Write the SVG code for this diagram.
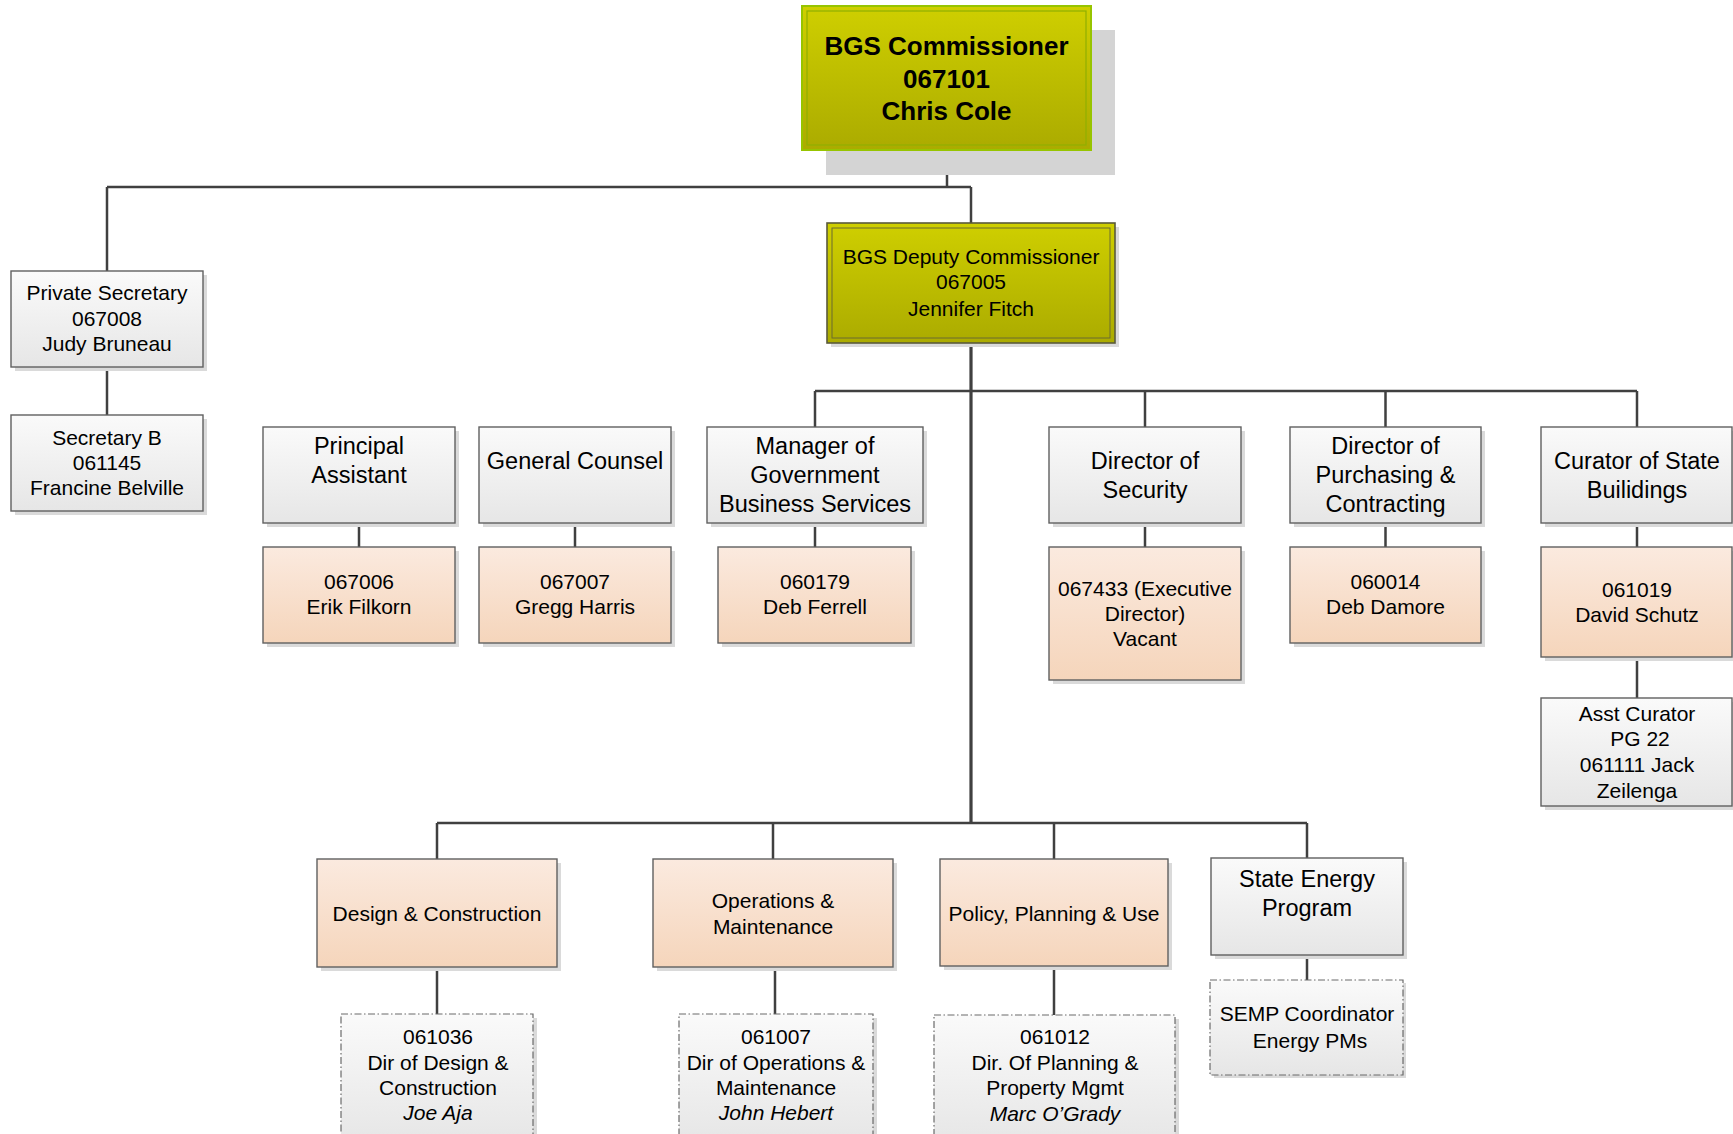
<svg xmlns="http://www.w3.org/2000/svg" width="1733" height="1134" viewBox="0 0 1733 1134">
<defs>
<linearGradient id="gGray" x1="0" y1="0" x2="0" y2="1"><stop offset="0" stop-color="#fafafa"/><stop offset="1" stop-color="#e6e6e6"/></linearGradient>
<linearGradient id="gPeach" x1="0" y1="0" x2="0" y2="1"><stop offset="0" stop-color="#fbeadf"/><stop offset="1" stop-color="#f5d5bb"/></linearGradient>
<linearGradient id="gYel" x1="0" y1="0" x2="0" y2="1"><stop offset="0" stop-color="#cfcf00"/><stop offset="1" stop-color="#abab00"/></linearGradient>
<style>
.sh{fill:#dadada}
.gray{fill:url(#gGray);stroke:#606060;stroke-width:1.4}
.peach{fill:url(#gPeach);stroke:#606060;stroke-width:1.4}
.dash{fill:url(#gGray);stroke:#6a6a6a;stroke-width:1.2;stroke-dasharray:7 2.5 1.5 2.5}
.t{font-family:"Liberation Sans",Arial,sans-serif;font-size:21px;fill:#000;text-anchor:middle}
.t2{font-family:"Liberation Sans",Arial,sans-serif;font-size:23.5px;fill:#000;text-anchor:middle}
.it{font-style:italic}
.ln{fill:none;stroke:#404040;stroke-width:2.5}
</style>
</defs>
<rect width="1733" height="1134" fill="#ffffff"/>

<g id="connectors">
<path class="ln" d="M947,150 V187 M107,187 H971 M107,187 V271 M971,187 V223"/>
<path class="ln" d="M107,367 V415"/>
<path class="ln" style="stroke-width:3.2" d="M971,343 V823"/>
<path class="ln" d="M815,391 H1637 M815,391 V427 M1145,391 V427 M1385.5,391 V427 M1637,391 V427"/>
<path class="ln" d="M359,523 V547 M575,523 V547 M815,523 V547 M1145,523 V547 M1385.5,523 V547 M1637,523 V547 M1637,657 V698"/>
<path class="ln" d="M437,823 H1307 M437,823 V859 M773,823 V859 M1054,823 V859 M1307,823 V858"/>
<path class="ln" d="M437,967 V1014 M775,967 V1014 M1054,966 V1015 M1307,955 V980"/>
</g>

<g id="n-commissioner">
<rect x="826" y="30" width="289" height="145" fill="#d4d4d4"/>
<rect x="802" y="6" width="289" height="144" fill="url(#gYel)" stroke="#97c400" stroke-width="2"/>
<rect x="807" y="11" width="279" height="134" fill="none" stroke="#8fb000" stroke-width="1.2"/>
<text class="t" style="font-size:26px;font-weight:bold" x="946.5" y="55">BGS Commissioner</text>
<text class="t" style="font-size:26px;font-weight:bold" x="946.5" y="88">067101</text>
<text class="t" style="font-size:26px;font-weight:bold" x="946.5" y="120">Chris Cole</text>
</g>

<g id="n-deputy">
<rect class="sh" x="831" y="227" width="288" height="120"/>
<rect x="827" y="223" width="288" height="120" fill="url(#gYel)" stroke="#5a5a3a" stroke-width="1.6"/>
<rect x="832" y="228" width="278" height="110" fill="none" stroke="#6b6b30" stroke-width="1"/>
<text class="t" x="971" y="264">BGS Deputy Commissioner</text>
<text class="t" x="971" y="289">067005</text>
<text class="t" x="971" y="316">Jennifer Fitch</text>
</g>

<g id="n-privsec">
<rect class="sh" x="15" y="275" width="192" height="96"/>
<rect class="gray" x="11" y="271" width="192" height="96"/>
<text class="t" x="107" y="300">Private Secretary</text>
<text class="t" x="107" y="326">067008</text>
<text class="t" x="107" y="351">Judy Bruneau</text>
</g>

<g id="n-secb">
<rect class="sh" x="15" y="419" width="192" height="96"/>
<rect class="gray" x="11" y="415" width="192" height="96"/>
<text class="t" x="107" y="445">Secretary B</text>
<text class="t" x="107" y="470">061145</text>
<text class="t" x="107" y="495">Francine Belville</text>
</g>

<g id="n-principal">
<rect class="sh" x="267" y="431" width="192" height="96"/>
<rect class="gray" x="263" y="427" width="192" height="96"/>
<text class="t2" x="359" y="454">Principal</text>
<text class="t2" x="359" y="483">Assistant</text>
</g>

<g id="n-counsel">
<rect class="sh" x="483" y="431" width="192" height="96"/>
<rect class="gray" x="479" y="427" width="192" height="96"/>
<text class="t2" x="575" y="469">General Counsel</text>
</g>

<g id="n-manager">
<rect class="sh" x="711" y="431" width="216" height="96"/>
<rect class="gray" x="707" y="427" width="216" height="96"/>
<text class="t2" x="815" y="454">Manager of</text>
<text class="t2" x="815" y="483">Government</text>
<text class="t2" x="815" y="511.5">Business Services</text>
</g>

<g id="n-security">
<rect class="sh" x="1053" y="431" width="192" height="96"/>
<rect class="gray" x="1049" y="427" width="192" height="96"/>
<text class="t2" x="1145" y="469">Director of</text>
<text class="t2" x="1145" y="498">Security</text>
</g>

<g id="n-purchasing">
<rect class="sh" x="1294" y="431" width="191" height="96"/>
<rect class="gray" x="1290" y="427" width="191" height="96"/>
<text class="t2" x="1385.5" y="454">Director of</text>
<text class="t2" x="1385.5" y="483">Purchasing &amp;</text>
<text class="t2" x="1385.5" y="511.5">Contracting</text>
</g>

<g id="n-curator">
<rect class="sh" x="1545" y="431" width="192" height="96"/>
<rect class="gray" x="1541" y="427" width="191" height="96"/>
<text class="t2" x="1637" y="469">Curator of State</text>
<text class="t2" x="1637" y="498">Builidings</text>
</g>

<g id="n-067006">
<rect class="sh" x="267" y="551" width="192" height="96"/>
<rect class="peach" x="263" y="547" width="192" height="96"/>
<text class="t" x="359" y="589">067006</text>
<text class="t" x="359" y="614">Erik Filkorn</text>
</g>

<g id="n-067007">
<rect class="sh" x="483" y="551" width="192" height="96"/>
<rect class="peach" x="479" y="547" width="192" height="96"/>
<text class="t" x="575" y="589">067007</text>
<text class="t" x="575" y="614">Gregg Harris</text>
</g>

<g id="n-060179">
<rect class="sh" x="722" y="551" width="193" height="96"/>
<rect class="peach" x="718" y="547" width="193" height="96"/>
<text class="t" x="815" y="589">060179</text>
<text class="t" x="815" y="614">Deb Ferrell</text>
</g>

<g id="n-067433">
<rect class="sh" x="1053" y="551" width="192" height="133"/>
<rect class="peach" x="1049" y="547" width="192" height="133"/>
<text class="t" x="1145" y="595.5">067433 (Executive</text>
<text class="t" x="1145" y="621">Director)</text>
<text class="t" x="1145" y="646">Vacant</text>
</g>

<g id="n-060014">
<rect class="sh" x="1294" y="551" width="191" height="96"/>
<rect class="peach" x="1290" y="547" width="191" height="96"/>
<text class="t" x="1385.5" y="589">060014</text>
<text class="t" x="1385.5" y="614">Deb Damore</text>
</g>

<g id="n-061019">
<rect class="sh" x="1545" y="551" width="192" height="110"/>
<rect class="peach" x="1541" y="547" width="191" height="110"/>
<text class="t" x="1637" y="596.5">061019</text>
<text class="t" x="1637" y="622">David Schutz</text>
</g>

<g id="n-asstcurator">
<rect class="sh" x="1545" y="702" width="192" height="108"/>
<rect class="gray" x="1541" y="698" width="191" height="108"/>
<text class="t" x="1637" y="720.5">Asst Curator</text>
<text class="t" x="1640" y="746">PG 22</text>
<text class="t" x="1637" y="772">061111 Jack</text>
<text class="t" x="1637" y="797.5">Zeilenga</text>
</g>

<g id="n-design">
<rect class="sh" x="321" y="863" width="240" height="108"/>
<rect class="peach" x="317" y="859" width="240" height="108"/>
<text class="t" x="437" y="920.5">Design &amp; Construction</text>
</g>

<g id="n-operations">
<rect class="sh" x="657" y="863" width="240" height="108"/>
<rect class="peach" x="653" y="859" width="240" height="108"/>
<text class="t" x="773" y="908">Operations &amp;</text>
<text class="t" x="773" y="934">Maintenance</text>
</g>

<g id="n-policy">
<rect class="sh" x="944" y="863" width="228" height="107"/>
<rect class="peach" x="940" y="859" width="228" height="107"/>
<text class="t" x="1054" y="920.5">Policy, Planning &amp; Use</text>
</g>

<g id="n-energy">
<rect class="sh" x="1215" y="862" width="192" height="97"/>
<rect class="gray" x="1211" y="858" width="192" height="97"/>
<text class="t2" x="1307" y="887">State Energy</text>
<text class="t2" x="1307" y="916">Program</text>
</g>

<g id="n-061036">
<rect class="sh" x="345" y="1018" width="192" height="130"/>
<rect class="dash" x="341" y="1014" width="192" height="130"/>
<text class="t" x="438" y="1044">061036</text>
<text class="t" x="438" y="1070">Dir of Design &amp;</text>
<text class="t" x="438" y="1095">Construction</text>
<text class="t it" x="438" y="1120">Joe Aja</text>
</g>

<g id="n-061007">
<rect class="sh" x="683" y="1018" width="194" height="130"/>
<rect class="dash" x="679" y="1014" width="194" height="130"/>
<text class="t" x="776" y="1044">061007</text>
<text class="t" x="776" y="1070">Dir of Operations &amp;</text>
<text class="t" x="776" y="1095">Maintenance</text>
<text class="t it" x="776" y="1120">John Hebert</text>
</g>

<g id="n-061012">
<rect class="sh" x="938" y="1019" width="241" height="130"/>
<rect class="dash" x="934" y="1015" width="241" height="130"/>
<text class="t" x="1055" y="1044">061012</text>
<text class="t" x="1055" y="1070">Dir. Of Planning &amp;</text>
<text class="t" x="1055" y="1095">Property Mgmt</text>
<text class="t it" x="1055" y="1121">Marc O’Grady</text>
</g>

<g id="n-semp">
<rect class="sh" x="1214" y="983" width="192" height="95"/>
<rect class="dash" x="1210" y="980" width="193" height="95"/>
<text class="t" x="1307" y="1021">SEMP Coordinator</text>
<text class="t" x="1310" y="1047.5">Energy PMs</text>
</g>
</svg>
